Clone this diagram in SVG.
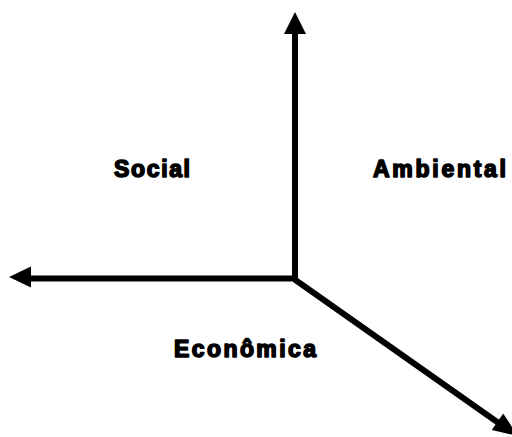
<svg xmlns="http://www.w3.org/2000/svg" width="512" height="437" viewBox="0 0 512 437">
<style>
.axis{stroke:#000;stroke-width:6;fill:none}
.head{fill:#000}
.lbl{font-family:"Liberation Sans",Arial,sans-serif;font-weight:bold;font-size:23px;fill:#000;stroke:#000;stroke-width:1.6;stroke-linejoin:round}
</style>
<rect width="512" height="437" fill="#fff"/>
<g id="connectors">
<line class="axis" x1="295" y1="281" x2="295" y2="30"/>
<polygon class="head" points="295,12 284,34 306,34"/>
<line class="axis" x1="292" y1="278.5" x2="28" y2="278.5"/>
<polygon class="head" points="9,277 31,266.5 31,287.5"/>
<line class="axis" x1="294" y1="279" x2="500" y2="424"/>
<polygon class="head" points="518,436 491.8,429.9 503.2,413.5"/>
</g>
<g id="social"><text class="lbl" x="114" y="177" textLength="76" lengthAdjust="spacing">Social</text></g>
<g id="ambiental"><text class="lbl" x="373" y="177" textLength="133" lengthAdjust="spacing">Ambiental</text></g>
<g id="economica"><text class="lbl" x="174" y="357" textLength="142" lengthAdjust="spacing">Econômica</text></g>
</svg>
